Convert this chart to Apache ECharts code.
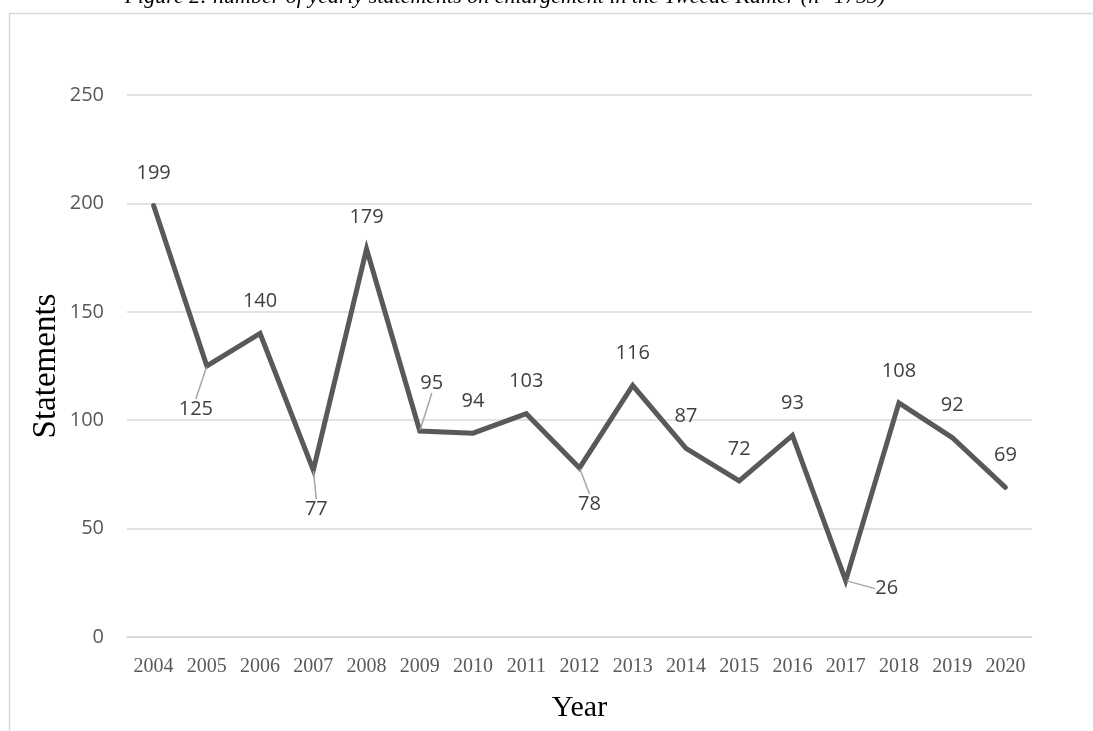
<!DOCTYPE html>
<html>
<head>
<meta charset="utf-8">
<script src="https://cdn.jsdelivr.net/npm/echarts@6/dist/echarts.min.js"></script>
<style>
html,body{margin:0;padding:0;background:#fff;}
#chart{width:1093px;height:731px;}
</style>
</head>
<body>
<div id="chart"></div>
<script>
const titleText = 'Figure 2: number of yearly statements on enlargement in the Tweede Kamer (n=1753)';
const years = ['2004','2005','2006','2007','2008','2009','2010','2011','2012','2013','2014','2015','2016','2017','2018','2019','2020'];
const statements = [199,125,140,77,179,95,94,103,78,116,87,72,93,26,108,92,69];
const yTicks = [0,50,100,150,200,250];
const xAxisName = 'Year';
const yAxisName = 'Statements';

// label shifts (style only) for labels moved off their default spot, keyed by index
const labelShift = {1:[-11,75], 3:[3,71], 5:[12,-16], 8:[10,68], 13:[41,40]};

const chart = echarts.init(document.getElementById('chart'), null, {renderer:'canvas'});
const option = {
  animation:false,
  backgroundColor:'#ffffff',
  graphic:[
    {type:'rect', shape:{x:9.5,y:13.5,width:1200,height:800}, style:{fill:'none',stroke:'#d9d9d9',lineWidth:1.5}, z:-1},
    {type:'text', x:505, y:-3, style:{text:titleText, font:'italic 22px "Liberation Serif"', fill:'#000', align:'center', verticalAlign:'middle'}}
  ],
  grid:{left:127, right:61, top:95, bottom:94, outerBoundsMode:'none', containLabel:false},
  xAxis:{
    type:'category', data:years, boundaryGap:true,
    axisLine:{show:true, lineStyle:{color:'#d9d9d9', width:1.5}},
    axisTick:{show:false},
    axisLabel:{color:'#595959', fontFamily:'Liberation Serif', fontSize:20, margin:20, interval:0},
    name:xAxisName, nameLocation:'middle', nameGap:56, nameMoveOverlap:false,
    nameTextStyle:{color:'#000', fontFamily:'Liberation Serif', fontSize:30}
  },
  yAxis:{
    type:'value', min:yTicks[0], max:yTicks[yTicks.length-1], interval:yTicks[1]-yTicks[0],
    axisLine:{show:false}, axisTick:{show:false},
    splitLine:{lineStyle:{color:'#d9d9d9', width:1.5}},
    axisLabel:{color:'#595959', fontFamily:'Open Sans', fontSize:20, margin:23},
    name:yAxisName, nameLocation:'middle', nameGap:64, nameMoveOverlap:false,
    nameTextStyle:{color:'#000', fontFamily:'Liberation Serif', fontSize:33}
  },
  series:[{
    type:'line',
    data:statements.map((v,i)=>({value:v, labelLine:{show: !!labelShift[i]}})),
    symbol:'circle', symbolSize:2, showSymbol:true,
    lineStyle:{color:'#595959', width:5, cap:'round', join:'miter'},
    itemStyle:{color:'#595959'},
    label:{show:true, position:'top', distance:21, color:'#404040', fontFamily:'Open Sans', fontSize:20},
    labelLine:{lineStyle:{color:'#a6a6a6', width:1.5}},
    labelLayout:function(p){
      const s = labelShift[p.dataIndex];
      return s ? {dx:s[0], dy:s[1]} : {};
    }
  }]
};
chart.setOption(option);
</script>
</body>
</html>
